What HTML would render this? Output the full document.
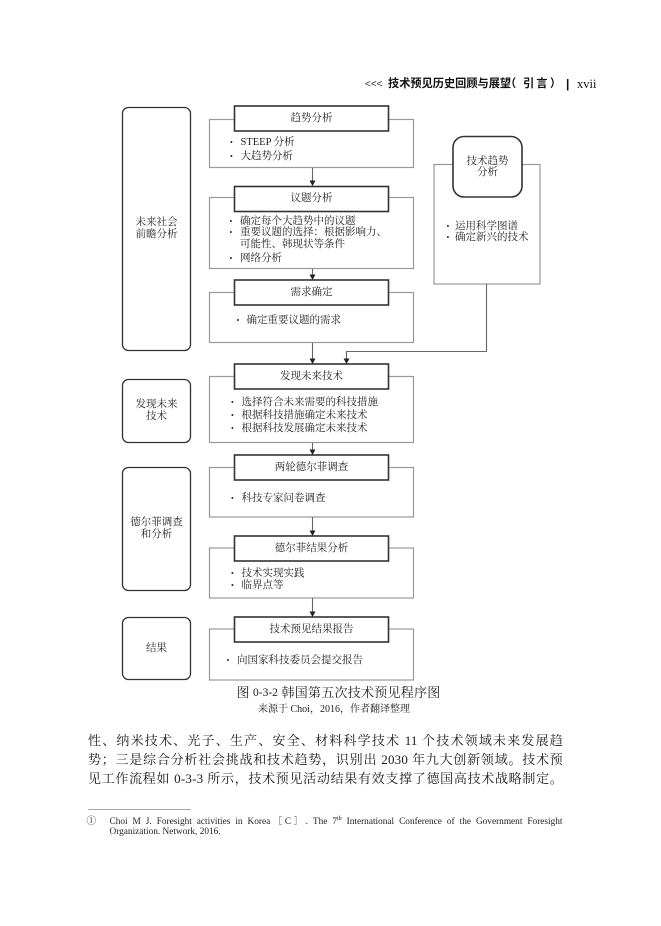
<!DOCTYPE html>
<html>
<head>
<meta charset="utf-8">
<style>
  html,body{margin:0;padding:0;background:#fff;}
  body{width:661px;height:926px;position:relative;overflow:hidden;}
  .t{position:absolute;white-space:nowrap;color:#222;font-family:"Liberation Serif","Noto Serif CJK SC",serif;}
  .bx{font-size:10.5px;height:14px;line-height:14px;}
  .c{text-align:center;}
  .b{font-size:8px;}
  .body{font-size:13px;height:18px;line-height:18px;color:#1a1a1a;letter-spacing:0.2px;}
  .hs{font-family:"Liberation Sans","Noto Sans CJK SC",sans-serif;font-weight:bold;color:#111;font-size:11.2px;height:17px;line-height:17px;}
</style>
</head>
<body>
<svg width="661" height="926" style="position:absolute;left:0;top:0" xmlns="http://www.w3.org/2000/svg">
  <!-- left category boxes -->
  <g fill="none" stroke="#333" stroke-width="1.3">
    <rect x="122.5" y="107.5" width="68" height="243" rx="6"/>
    <rect x="122.5" y="379.5" width="68" height="63" rx="6"/>
    <rect x="122.5" y="467.5" width="68" height="123" rx="6"/>
    <rect x="122.5" y="617.5" width="68" height="62" rx="6"/>
  </g>
  <!-- outer gray boxes -->
  <g fill="none" stroke="#999" stroke-width="1.2">
    <rect x="209.5" y="119.5" width="204" height="48"/>
    <rect x="209.5" y="197.5" width="204" height="71"/>
    <rect x="209.5" y="292.5" width="204" height="50"/>
    <rect x="209.5" y="376.5" width="204" height="66"/>
    <rect x="209.5" y="467.5" width="204" height="49.5"/>
    <rect x="209.5" y="548" width="204" height="50"/>
    <rect x="209.5" y="629" width="204" height="51"/>
    <rect x="434" y="164.5" width="106" height="119.5"/>
  </g>
  <!-- header boxes -->
  <g fill="#fff" stroke="#333" stroke-width="1.6">
    <rect x="234.5" y="106" width="154" height="25"/>
    <rect x="234.5" y="186.5" width="154" height="25"/>
    <rect x="234.5" y="280" width="154" height="25"/>
    <rect x="234.5" y="364" width="154" height="25"/>
    <rect x="234.5" y="455" width="154" height="25"/>
    <rect x="234.5" y="536" width="154" height="25"/>
    <rect x="234.5" y="617" width="154" height="25"/>
    <rect x="453" y="136.5" width="69" height="60.5" rx="11"/>
  </g>
  <!-- connectors -->
  <g stroke="#666" stroke-width="1.1" fill="none">
    <line x1="312.5" y1="168" x2="312.5" y2="181"/>
    <line x1="312.5" y1="269" x2="312.5" y2="275"/>
    <line x1="312.5" y1="343" x2="312.5" y2="359"/>
    <line x1="312.5" y1="443" x2="312.5" y2="450"/>
    <line x1="312.5" y1="517" x2="312.5" y2="531"/>
    <line x1="312.5" y1="598" x2="312.5" y2="612"/>
    <polyline points="486.5,284 486.5,351.5 346.5,351.5 346.5,359"/>
  </g>
  <g fill="#222">
    <polygon points="309.5,180.5 315.5,180.5 312.5,186"/>
    <polygon points="309.5,274.5 315.5,274.5 312.5,280"/>
    <polygon points="309.5,358.5 315.5,358.5 312.5,364"/>
    <polygon points="309.5,449.5 315.5,449.5 312.5,455"/>
    <polygon points="309.5,530.5 315.5,530.5 312.5,536"/>
    <polygon points="309.5,611.5 315.5,611.5 312.5,617"/>
    <polygon points="343.5,358.5 349.5,358.5 346.5,364"/>
  </g>
  <!-- footnote rule -->
  <line x1="88" y1="809.5" x2="191" y2="809.5" stroke="#888" stroke-width="0.8"/>
</svg>

<!-- page header -->
<div class="t" style="left:365px;top:77px;height:16px;line-height:16px;font-family:'Liberation Sans','Noto Sans CJK SC',sans-serif;font-size:10px;color:#333;">&lt;&lt;&lt;</div>
<div class="t hs" style="left:388px;top:76px;">技术预见历史回顾与展望</div>
<div class="t hs" style="left:505px;top:76px;">（</div>
<div class="t hs" style="left:523px;top:76px;letter-spacing:2px;">引言</div>
<div class="t hs" style="left:550px;top:76px;">）</div>
<div class="t" style="left:566px;top:76px;height:17px;line-height:17px;font-family:'Liberation Sans',sans-serif;font-size:12px;font-weight:bold;color:#111;">|</div>
<div class="t" style="left:577px;top:76px;height:17px;line-height:17px;font-size:12.5px;color:#111;">xvii</div>

<!-- header box labels -->
<div class="t bx c" style="left:234px;width:155px;top:111.5px;">趋势分析</div>
<div class="t bx c" style="left:234px;width:155px;top:192px;">议题分析</div>
<div class="t bx c" style="left:234px;width:155px;top:285.5px;">需求确定</div>
<div class="t bx c" style="left:234px;width:155px;top:369.5px;">发现未来技术</div>
<div class="t bx c" style="left:234px;width:155px;top:460.5px;">两轮德尔菲调查</div>
<div class="t bx c" style="left:234px;width:155px;top:541.5px;">德尔菲结果分析</div>
<div class="t bx c" style="left:234px;width:155px;top:622.5px;">技术预见结果报告</div>

<!-- bullets box 1 -->
<div class="t bx b" style="left:230px;top:136.3px;">•</div>
<div class="t bx" style="left:240.5px;top:136.3px;">STEEP 分析</div>
<div class="t bx b" style="left:230px;top:149.7px;">•</div>
<div class="t bx" style="left:240.5px;top:149.7px;">大趋势分析</div>

<!-- bullets box 2 -->
<div class="t bx b" style="left:229.5px;top:214.7px;">•</div>
<div class="t bx" style="left:240px;top:214.7px;">确定每个大趋势中的议题</div>
<div class="t bx b" style="left:229.5px;top:226.3px;">•</div>
<div class="t bx" style="left:240px;top:226.3px;">重要议题的选择：根据影响力、</div>
<div class="t bx" style="left:240px;top:238px;">可能性、韩现状等条件</div>
<div class="t bx b" style="left:229.5px;top:252px;">•</div>
<div class="t bx" style="left:240px;top:252px;">网络分析</div>

<!-- bullets box 3 -->
<div class="t bx b" style="left:236.5px;top:314px;">•</div>
<div class="t bx" style="left:246.5px;top:314px;">确定重要议题的需求</div>

<!-- bullets box 4 -->
<div class="t bx b" style="left:231px;top:396.3px;">•</div>
<div class="t bx" style="left:241.5px;top:396.3px;">选择符合未来需要的科技措施</div>
<div class="t bx b" style="left:231px;top:409px;">•</div>
<div class="t bx" style="left:241.5px;top:409px;">根据科技措施确定未来技术</div>
<div class="t bx b" style="left:231px;top:422.3px;">•</div>
<div class="t bx" style="left:241.5px;top:422.3px;">根据科技发展确定未来技术</div>

<!-- bullets box 5 -->
<div class="t bx b" style="left:231px;top:492.3px;">•</div>
<div class="t bx" style="left:241.5px;top:492.3px;">科技专家问卷调查</div>

<!-- bullets box 6 -->
<div class="t bx b" style="left:231px;top:567px;">•</div>
<div class="t bx" style="left:241.5px;top:567px;">技术实现实践</div>
<div class="t bx b" style="left:231px;top:579px;">•</div>
<div class="t bx" style="left:241.5px;top:579px;">临界点等</div>

<!-- bullets box 7 -->
<div class="t bx b" style="left:226.5px;top:653.7px;">•</div>
<div class="t bx" style="left:237px;top:653.7px;">向国家科技委员会提交报告</div>

<!-- right tech trend -->
<div class="t bx c" style="left:453px;width:69px;top:154.7px;">技术趋势</div>
<div class="t bx c" style="left:453px;width:69px;top:166.3px;">分析</div>
<div class="t bx b" style="left:446.5px;top:219.7px;">•</div>
<div class="t bx" style="left:455px;top:219.7px;">运用科学图谱</div>
<div class="t bx b" style="left:446.5px;top:231.3px;">•</div>
<div class="t bx" style="left:455px;top:231.3px;">确定新兴的技术</div>

<!-- left category labels -->
<div class="t bx c" style="left:122px;width:69px;top:216.3px;">未来社会</div>
<div class="t bx c" style="left:122px;width:69px;top:227.5px;">前瞻分析</div>
<div class="t bx c" style="left:122px;width:69px;top:398px;">发现未来</div>
<div class="t bx c" style="left:122px;width:69px;top:409.7px;">技术</div>
<div class="t bx c" style="left:122px;width:69px;top:516.3px;">德尔菲调查</div>
<div class="t bx c" style="left:122px;width:69px;top:528px;">和分析</div>
<div class="t bx c" style="left:122px;width:69px;top:642px;">结果</div>

<!-- caption -->
<div class="t" style="left:236.5px;top:684px;height:18px;line-height:18px;font-size:13px;">图</div>
<div class="t" style="left:253px;top:684px;height:18px;line-height:18px;font-size:11.5px;">0-3-2</div>
<div class="t" style="left:281.5px;top:684px;height:18px;line-height:18px;font-size:13px;letter-spacing:0.25px;">韩国第五次技术预见程序图</div>
<div class="t" style="left:258px;top:702.5px;height:14px;line-height:14px;font-size:10px;">来源于 Choi，2016，作者翻译整理</div>

<!-- body text -->
<div class="t body" style="left:88px;top:731.7px;width:475px;text-align:justify;text-align-last:justify;white-space:normal;">性、纳米技术、光子、生产、安全、材料科学技术 11 个技术领域未来发展趋</div>
<div class="t body" style="left:88px;top:751px;width:475px;text-align:justify;text-align-last:justify;white-space:normal;">势；三是综合分析社会挑战和技术趋势，识别出 2030 年九大创新领域。技术预</div>
<div class="t body" style="left:88px;top:770.3px;width:475px;text-align:justify;text-align-last:justify;white-space:normal;">见工作流程如 0-3-3 所示，技术预见活动结果有效支撑了德国高技术战略制定。</div>

<!-- footnote -->
<div class="t" style="left:86.5px;top:816px;height:13px;line-height:13px;font-size:9.5px;">①</div>
<div class="t" style="left:109.5px;top:816px;width:453px;height:13px;line-height:13px;font-size:9.3px;text-align:justify;text-align-last:justify;white-space:normal;">Choi M J. Foresight activities in Korea［C］. The 7<sup style="font-size:6px;line-height:0;">th</sup> International Conference of the Government Foresight</div>
<div class="t" style="left:109.5px;top:826px;height:13px;line-height:13px;font-size:9.3px;">Organization. Network, 2016.</div>
</body>
</html>
